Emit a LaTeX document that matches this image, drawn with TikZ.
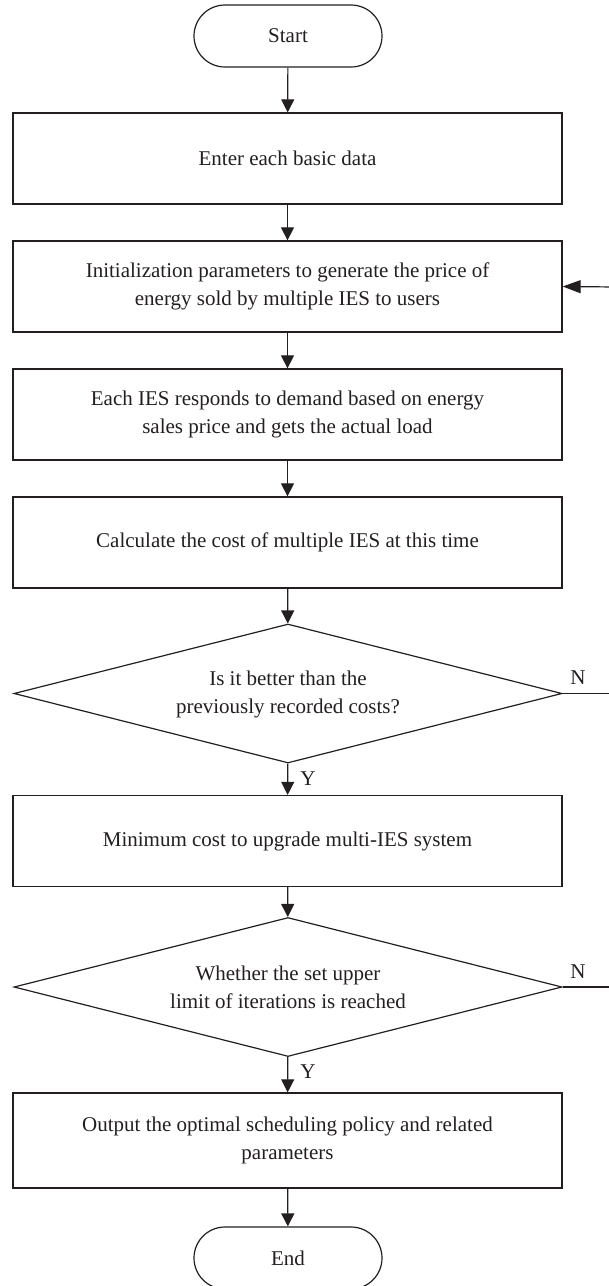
\documentclass[tikz,border=0pt]{standalone}
\usepackage{fontspec}
\setmainfont{Liberation Serif}
\usetikzlibrary{shapes.geometric,shapes.misc,arrows.meta}
\definecolor{ink}{HTML}{231F20}
\begin{document}
\begin{tikzpicture}[x=1pt,y=-1pt,
  every node/.style={font=\fontsize{21}{28}\selectfont, text=ink},
  box/.style={draw=ink, line width=1.3pt, minimum width=549pt, minimum height=91pt, align=center, inner sep=0pt},
  term/.style={draw=ink, line width=1.2pt, rounded rectangle, minimum width=188pt, minimum height=62pt, inner sep=0pt},
  decision/.style={draw=ink, line width=1.2pt, diamond, aspect=3.94, minimum width=548pt, minimum height=139pt, inner sep=0pt, align=center},
  arr/.style={draw=ink, line width=1.2pt, -{Triangle[length=13pt,width=13pt]}},
  backarr/.style={draw=ink, line width=1.2pt, -{Triangle[length=18pt,width=13pt]}},
  lbl/.style={inner sep=0pt}
]
\useasboundingbox (0,0) rectangle (609,1286);

\node[term] (start) at (288,36) {Start};
\node[box] (b1) at (287.5,158.5) {Enter each basic data};
\node[box] (b2) at (287.5,286.5) {Initialization parameters to generate the price of\\energy sold by multiple IES to users};
\node[box] (b3) at (287.5,414.5) {Each IES responds to demand based on energy\\sales price and gets the actual load};
\node[box] (b4) at (287.5,542.5) {Calculate the cost of multiple IES at this time};
\node[decision] (d1) at (288,693.5) {\raisebox{-6pt}{\begin{tabular}{@{}c@{}}Is it better than the\\previously recorded costs?\end{tabular}}};
\node[box] (b5) at (287.5,841) {Minimum cost to upgrade multi-IES system};
\node[decision] (d2) at (288,987) {Whether the set upper\\limit of iterations is reached};
\node[box, minimum height=95pt] (b6) at (287.5,1140.5) {Output the optimal scheduling policy and related\\parameters};
\node[term] (end) at (288,1258) {End};

\coordinate (rt) at (616,287);

\draw[arr] (start) -- (b1);
\draw[arr] (b1) -- (b2);
\draw[arr] (b2) -- (b3);
\draw[arr] (b3) -- (b4);
\draw[arr] (b4) -- (d1);
\draw[arr] (d1) -- (b5);
\draw[arr] (b5) -- (d2);
\draw[arr] (d2) -- (b6);
\draw[arr] (b6) -- (end);

\draw[draw=ink, line width=1.2pt] (d1.east) -- (d1.east -| rt) -- (rt);
\draw[draw=ink, line width=1.2pt] (d2.east) -- (d2.east -| rt) -- (rt);
\draw[backarr] (rt) -- (b2.east);

\node[lbl] (n1) at (578,678) {N};
\node[lbl] (n2) at (578,972) {N};
\node[lbl] (y1) at (308,779) {Y};
\node[lbl] (y2) at (308,1072) {Y};
\end{tikzpicture}
\end{document}
